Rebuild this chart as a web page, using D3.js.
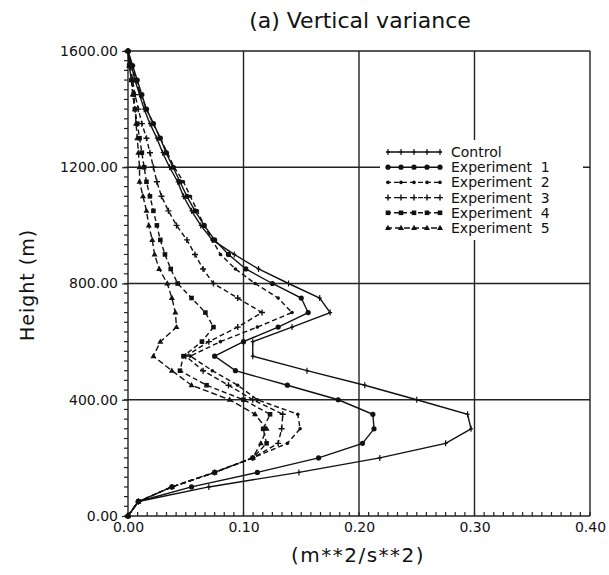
<!DOCTYPE html>
<html><head><meta charset="utf-8">
<script src="https://cdn.jsdelivr.net/npm/d3@7"></script>
<style>body{margin:0;background:#fff}svg{display:block}</style>
</head><body>
<svg id="c" width="609" height="575"></svg>
<script>
const heights = d3.range(0, 1601, 50);
const seriesNames = ["Control","Experiment  1","Experiment  2","Experiment  3","Experiment  4","Experiment  5"];
const control = [0,0.009,0.070,0.148,0.218,0.275,0.297,0.294,0.250,0.205,0.155,0.108,0.108,0.142,0.175,0.166,0.139,0.113,0.092,0.073,0.063,0.055,0.048,0.043,0.036,0.030,0.025,0.019,0.014,0.010,0.006,0.003,0];
const exp1 = [0,0.009,0.055,0.112,0.165,0.203,0.213,0.212,0.182,0.138,0.093,0.075,0.100,0.130,0.156,0.150,0.125,0.102,0.087,0.075,0.066,0.058,0.051,0.045,0.039,0.033,0.028,0.022,0.016,0.012,0.008,0.004,0];
const exp2 = [0,0.009,0.038,0.075,0.108,0.138,0.149,0.147,0.112,0.095,0.073,0.054,0.080,0.112,0.142,0.130,0.110,0.093,0.080,0.073,0.066,0.060,0.054,0.048,0.040,0.034,0.028,0.022,0.016,0.011,0.007,0.003,0];
const exp3 = [0,0.009,0.038,0.075,0.108,0.130,0.133,0.134,0.108,0.087,0.065,0.050,0.070,0.095,0.116,0.095,0.074,0.065,0.058,0.051,0.042,0.035,0.029,0.025,0.022,0.019,0.016,0.012,0.009,0.006,0.004,0.002,0];
const exp4 = [0,0.009,0.038,0.075,0.108,0.120,0.117,0.123,0.100,0.068,0.045,0.048,0.064,0.074,0.067,0.055,0.043,0.037,0.032,0.028,0.025,0.022,0.019,0.016,0.014,0.012,0.010,0.008,0.006,0.005,0.003,0.001,0];
const exp5 = [0,0.009,0.038,0.075,0.108,0.115,0.120,0.110,0.088,0.055,0.038,0.022,0.028,0.042,0.041,0.038,0.034,0.027,0.023,0.021,0.018,0.016,0.013,0.010,0.010,0.009,0.008,0.007,0.006,0.004,0.003,0.001,0];
const allSeries = [control, exp1, exp2, exp3, exp4, exp5];
const xTicks = [0, 0.1, 0.2, 0.3, 0.4];
const yTicks = [0, 400, 800, 1200, 1600];

const svg = d3.select("#c");
const x = d3.scaleLinear().domain([0, 0.4]).range([128, 590]);
const y = d3.scaleLinear().domain([0, 1600]).range([516, 51]);
const font = "DejaVu Sans, sans-serif";

// grid
const g = svg.append("g");
g.selectAll(".gx").data(xTicks).join("line")
  .attr("x1", d => x(d)).attr("x2", d => x(d)).attr("y1", y(0)).attr("y2", y(1600))
  .attr("stroke", "#222").attr("stroke-width", 1.4);
g.selectAll(".gy").data(yTicks).join("line")
  .attr("y1", d => y(d)).attr("y2", d => y(d)).attr("x1", x(0)).attr("x2", x(0.4))
  .attr("stroke", "#222").attr("stroke-width", 1.4);

// minor ticks
const xMinor = d3.range(0, 48.5).map(i => i * 0.4 / 48);
const yMinor = d3.range(0, 48.5).map(i => i * 1600 / 48);
g.selectAll(".mx").data(xMinor).join("line")
  .attr("x1", d => x(d)).attr("x2", d => x(d)).attr("y1", y(0)).attr("y2", y(0) - 4)
  .attr("stroke", "#222").attr("stroke-width", 1.2);
g.selectAll(".my").data(yMinor).join("line")
  .attr("y1", d => y(d)).attr("y2", d => y(d)).attr("x1", x(0) - 4).attr("x2", x(0))
  .attr("stroke", "#222").attr("stroke-width", 1.2);

// axes labels
const xAxis = d3.axisBottom(x).tickValues(xTicks).tickFormat(d3.format(".2f")).tickSize(0).tickPadding(6);
const yAxis = d3.axisLeft(y).tickValues(yTicks).tickFormat(d3.format(".2f")).tickSize(6).tickPadding(4);
const xa = svg.append("g").attr("transform", `translate(0,${y(0)})`).call(xAxis);
const ya = svg.append("g").attr("transform", `translate(${x(0)},0)`).call(yAxis);
[xa, ya].forEach(a => {
  a.select(".domain").remove();
  a.selectAll("text").attr("font-family", font).attr("font-size", 14).attr("fill", "#111");
  a.selectAll("line").attr("stroke", "#222").attr("stroke-width", 1.2);
});

// series
const styles = [
  {dash: null, marker: "plus"},
  {dash: null, marker: "circle"},
  {dash: "5,3", marker: "dot"},
  {dash: "5,3", marker: "cross"},
  {dash: "5,3", marker: "square"},
  {dash: "6,3", marker: "triangle"}
];
const line = d3.line().x(d => x(d[0])).y(d => y(d[1]));
function drawMarker(sel, type, px, py) {
  if (type === "plus") {
    sel.append("path").attr("d", `M${px},${py-3}V${py+3}M${px-2},${py}H${px+2}`).attr("stroke", "#111").attr("stroke-width", 1.2);
  } else if (type === "circle") {
    sel.append("circle").attr("cx", px).attr("cy", py).attr("r", 2.6).attr("fill", "#111");
  } else if (type === "dot") {
    sel.append("circle").attr("cx", px).attr("cy", py).attr("r", 1.8).attr("fill", "#111");
  } else if (type === "cross") {
    sel.append("path").attr("d", `M${px},${py-3}V${py+3}M${px-3},${py}H${px+3}`).attr("stroke", "#111").attr("stroke-width", 1.4);
  } else if (type === "square") {
    sel.append("rect").attr("x", px-2.3).attr("y", py-2.3).attr("width", 4.6).attr("height", 4.6).attr("fill", "#111");
  } else if (type === "triangle") {
    sel.append("path").attr("d", `M${px},${py-3.2}L${px+3},${py+2}L${px-3},${py+2}Z`).attr("fill", "#111");
  }
}
allSeries.forEach((vals, i) => {
  const pts = vals.map((v, j) => [v, heights[j]]);
  svg.append("path").attr("d", line(pts)).attr("fill", "none").attr("stroke", "#111")
    .attr("stroke-width", 1.4).attr("stroke-dasharray", styles[i].dash);
  const mg = svg.append("g");
  pts.forEach(p => drawMarker(mg, styles[i].marker, x(p[0]), y(p[1])));
});

// legend
const lg = svg.append("g");
lg.append("rect").attr("x", 380).attr("y", 140).attr("width", 203).attr("height", 100).attr("fill", "#fff");
seriesNames.forEach((n, i) => {
  const ly = 152 + i * 15.2;
  lg.append("line").attr("x1", 386).attr("x2", 442).attr("y1", ly).attr("y2", ly)
    .attr("stroke", "#111").attr("stroke-width", 1.4).attr("stroke-dasharray", styles[i].dash);
  d3.range(5).forEach(k => drawMarker(lg, styles[i].marker, 388 + k * 13, ly));
  lg.append("text").attr("x", 451).attr("y", ly + 5).text(n)
    .attr("font-family", font).attr("font-size", 14).attr("fill", "#111").attr("xml:space", "preserve");
});

// titles
svg.append("text").attr("x", 360).attr("y", 28).attr("text-anchor", "middle")
  .attr("font-family", font).attr("font-size", 22).attr("fill", "#111").text("(a)  Vertical  variance");
svg.append("text").attr("x", 358).attr("y", 562).attr("text-anchor", "middle")
  .attr("font-family", font).attr("font-size", 20).attr("letter-spacing", 1.5).attr("fill", "#111").text("(m**2/s**2)");
svg.append("text").attr("transform", "translate(34,285) rotate(-90)").attr("text-anchor", "middle")
  .attr("font-family", font).attr("font-size", 19).attr("letter-spacing", 1).attr("fill", "#111").text("Height  (m)");
</script>
</body></html>
